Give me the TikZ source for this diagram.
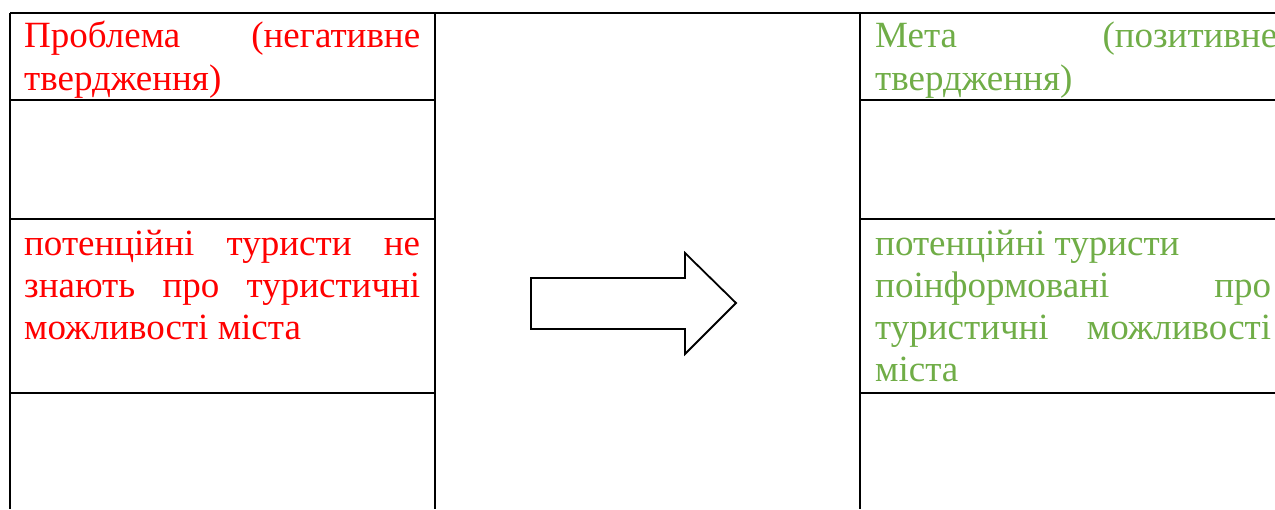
\documentclass[tikz,border=0pt]{standalone}
\usepackage{fontspec}
\setmainfont{Liberation Serif}
\definecolor{probred}{HTML}{FF0000}
\definecolor{goalgreen}{HTML}{70AD47}
\tikzset{
  grid/.style={line width=2.5pt, black},
  txt/.style={anchor=base west, inner sep=0pt, font=\fontsize{37}{42}\selectfont},
  redtxt/.style={txt, text=probred},
  greentxt/.style={txt, text=goalgreen},
  bigarrow/.style={line width=1.8pt, black, line join=miter}
}
\newcommand{\jline}[1]{\makebox[396pt][s]{#1}}
\begin{document}
\begin{tikzpicture}[x=1pt,y=-1pt]
\useasboundingbox (0,0) rectangle (1275,509);
% table lines
\draw[grid] (10,13) -- (1275,13);
\draw[grid] (10,13) -- (10,509);
\draw[grid] (435,13) -- (435,509);
\draw[grid] (860,13) -- (860,509);
\draw[grid] (10,100) -- (435,100);
\draw[grid] (10,219) -- (435,219);
\draw[grid] (10,393) -- (435,393);
\draw[grid] (860,100) -- (1275,100);
\draw[grid] (860,219) -- (1275,219);
\draw[grid] (860,393) -- (1275,393);
% left texts
\node[redtxt] (p1) at (24,47) {\makebox[396pt][l]{Проблема\hfill(негативне}};
\node[redtxt] (p2) at (24,90) {твердження)};
\node[redtxt] (p3) at (24,255) {\jline{потенційні туристи не}};
\node[redtxt] (p4) at (24,297) {\jline{знають про туристичні}};
\node[redtxt] (p5) at (24,339) {можливості міста};
% right texts
\node[greentxt] (g1) at (875,47) {\makebox[402pt][l]{Мета\hfill(позитивне}};
\node[greentxt] (g2) at (875,90) {твердження)};
\node[greentxt] (g3) at (875,255) {потенційні туристи};
\node[greentxt] (g4) at (875,297) {\jline{поінформовані про}};
\node[greentxt] (g5) at (875,339) {\jline{туристичні можливості}};
\node[greentxt] (g6) at (875,381) {міста};
% arrow
\draw[bigarrow] (531,278) -- (685,278) -- (685,253) -- (736,303) -- (685,354) -- (685,329) -- (531,329) -- cycle;
\end{tikzpicture}
\end{document}
